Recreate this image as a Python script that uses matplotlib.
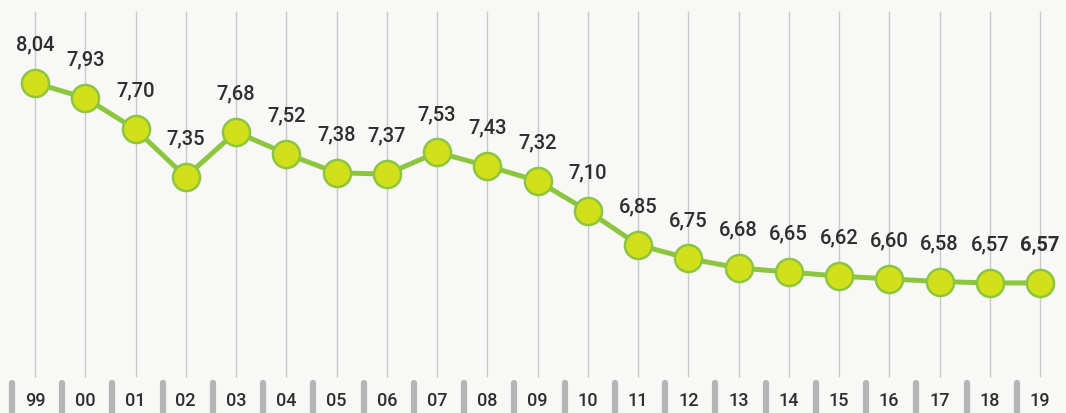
import matplotlib
matplotlib.use("Agg")
import matplotlib.pyplot as plt

years = ["99", "00", "01", "02", "03", "04", "05", "06", "07", "08", "09",
         "10", "11", "12", "13", "14", "15", "16", "17", "18", "19"]
values = [8.04, 7.93, 7.70, 7.35, 7.68, 7.52, 7.38, 7.37, 7.53, 7.43, 7.32,
          7.10, 6.85, 6.75, 6.68, 6.65, 6.62, 6.60, 6.58, 6.57, 6.57]
labels = ["8,04", "7,93", "7,70", "7,35", "7,68", "7,52", "7,38", "7,37", "7,53", "7,43", "7,32",
          "7,10", "6,85", "6,75", "6,68", "6,65", "6,62", "6,60", "6,58", "6,57", "6,57"]

plt.rcParams['font.family'] = ['Roboto', 'DejaVu Sans']

bg = '#f8f8f6'
fig = plt.figure(figsize=(10.66, 4.14), dpi=100, facecolor=bg)
ax = fig.add_axes([0, 0, 1, 1])
ax.set_facecolor(bg)

x = list(range(len(years)))
ax.set_xlim(-35 / 50.25, (1066 - 35) / 50.25)
ax.set_ylim(8.04 - 330 / 136, 8.04 + 84 / 136)

# vertical grid lines
ax.vlines(x, 8.04 - 294 / 136, 8.04 + 72 / 136, color='#c9c9c9', lw=1, zorder=1)

# gray tabs near the year labels
ax.vlines([i - 0.46 for i in x], 8.04 - 300 / 136, 5.5, color='#b5b5b5', lw=4.5,
          capstyle='round', zorder=1)

ax.plot(x, values, color='#8cc63f', lw=3.6, zorder=2)
ax.plot(x, values, 'o', ms=19.5, mfc='#d2e01c', mec='#8cc63f', mew=1.8, zorder=3)

for i, (v, t) in enumerate(zip(values, labels)):
    ax.annotate(t, (i, v), xytext=(0, 28), textcoords='offset points',
                ha='center', va='center', fontsize=14.5, color='#2e2e2e',
                fontweight='bold' if i == len(values) - 1 else 'medium')

for i, y in enumerate(years):
    ax.text(i, 8.04 - 317 / 136, y, ha='center', va='center', fontsize=13,
            color='#2e2e2e', fontweight='medium')

ax.axis('off')
fig.savefig('out.png', dpi=100, facecolor=bg)
